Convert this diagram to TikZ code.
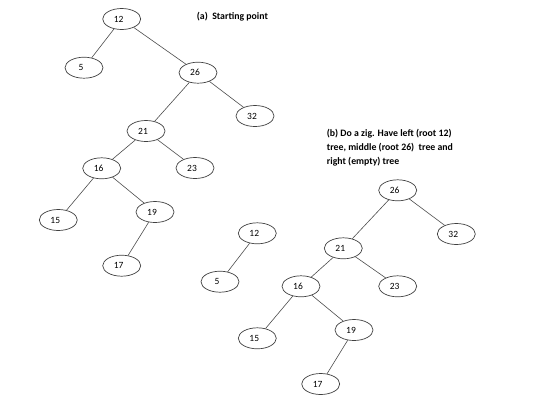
\documentclass[tikz,border=0pt]{standalone}
\usepackage{fontspec}
\setmainfont{Carlito}
\usetikzlibrary{shapes.geometric}
\begin{document}
\begin{tikzpicture}[x=1pt,y=-1pt,
  tn/.style={ellipse,draw=black!75,line width=0.7pt,minimum width=38pt,minimum height=21pt,inner sep=0pt,font=\fontsize{9.5}{10}\selectfont,execute at begin node=\kern-6pt},
  edge/.style={draw=black!70,line width=0.6pt},
  captext/.style={font=\bfseries\fontsize{9.8}{14}\selectfont,anchor=north west,align=left,inner sep=0pt}]
\useasboundingbox (0,0) rectangle (540,410);
% (a)
\node[tn] (a12) at (121.7,19) {12};
\node[tn] (a5) at (84,67.7) {5};
\node[tn] (a26) at (198,72.7) {26};
\node[tn] (a32) at (255,116) {32};
\node[tn] (a21) at (146,131) {21};
\node[tn] (a23) at (195,168) {23};
\node[tn] (a16) at (101.7,168.3) {16};
\node[tn] (a15) at (58.3,220) {15};
\node[tn] (a19) at (155,212) {19};
\node[tn] (a17) at (121.7,265.7) {17};
\draw[edge] (a12) -- (a5);
\draw[edge] (a12) -- (a26);
\draw[edge] (a26) -- (a21);
\draw[edge] (a26) -- (a32);
\draw[edge] (a21) -- (a16);
\draw[edge] (a21) -- (a23);
\draw[edge] (a16) -- (a15);
\draw[edge] (a16) -- (a19);
\draw[edge] (a19) -- (a17);
% (b)
\node[tn] (b12) at (257.3,233.3) {12};
\node[tn] (b5) at (220,281.7) {5};
\node[tn] (b26) at (397.7,190.3) {26};
\node[tn] (b32) at (456.3,234) {32};
\node[tn] (b21) at (343.3,248.3) {21};
\node[tn] (b23) at (397.7,286.3) {23};
\node[tn] (b16) at (301,286.3) {16};
\node[tn] (b15) at (257.3,338.3) {15};
\node[tn] (b19) at (354,330) {19};
\node[tn] (b17) at (320.7,384) {17};
\draw[edge] (b12) -- (b5);
\draw[edge] (b26) -- (b21);
\draw[edge] (b26) -- (b32);
\draw[edge] (b21) -- (b16);
\draw[edge] (b21) -- (b23);
\draw[edge] (b16) -- (b15);
\draw[edge] (b16) -- (b19);
\draw[edge] (b19) -- (b17);
% captions
\node[captext] (capa) at (196.7,12) {(a)\ \ Starting point};
\node[captext] (capb) at (326.7,129) {(b) Do a zig. Have left (root 12)\\tree, middle (root 26)\ \ tree and\\right (empty) tree};
\end{tikzpicture}
\end{document}
